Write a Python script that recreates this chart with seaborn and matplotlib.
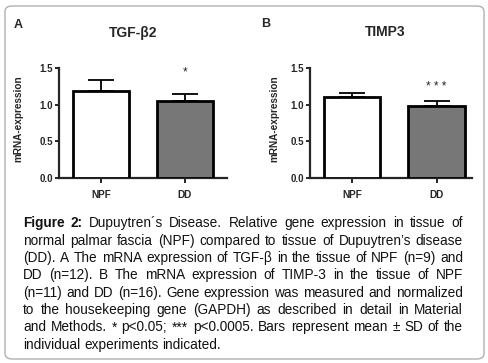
import matplotlib
matplotlib.use("Agg")
import matplotlib.pyplot as plt
import pandas as pd
import seaborn as sns
from matplotlib.patches import FancyBboxPatch

# data
groups = ["NPF", "DD"]
tgf_mean = [1.18, 1.055]
tgf_sd = [0.155, 0.09]
timp_mean = [1.10, 0.977]
timp_sd = [0.055, 0.075]
sig_tgf = "*"
sig_timp = "* * *"
yticks = [0.0, 0.5, 1.0, 1.5]

caption = [
    "Figure 2: Dupuytren´s Disease. Relative gene expression in tissue of",
    "normal palmar fascia (NPF) compared to tissue of Dupuytren’s disease",
    "(DD). A The mRNA expression of TGF-β in the tissue of NPF (n=9) and",
    "DD (n=12). B The mRNA expression of TIMP-3 in the tissue of NPF",
    "(n=11) and DD (n=16). Gene expression was measured and normalized",
    "to the housekeeping gene (GAPDH) as described in detail in Material",
    "and Methods. * p<0.05; *** p<0.0005. Bars represent mean ± SD of the",
    "individual experiments indicated.",
]

sns.set_style("ticks")
plt.rcParams["font.family"] = ["Liberation Sans", "DejaVu Sans"]

W, H = 489, 363
fig = plt.figure(figsize=(W / 100, H / 100), dpi=100)

# rounded frame around everything
frame = FancyBboxPatch((5 / W, 4 / H), 479 / W, 353 / H,
                       boxstyle="round,pad=0,rounding_size=0.015",
                       transform=fig.transFigure, fill=False,
                       edgecolor="#b0b0b0", linewidth=1.0)
fig.patches.append(frame)


def panel(rect, means, sds, sig, sig_y, xmax, label_x):
    ax = fig.add_axes(rect)
    df = pd.DataFrame({"group": groups, "value": means})
    sns.barplot(data=df, x="group", y="value", hue="group",
                palette=["white", "#777777"], legend=False,
                edgecolor="black", linewidth=2.0, width=0.67,
                errorbar=None, ax=ax, zorder=3)
    ax.errorbar(range(len(groups)), means, yerr=[[0] * len(sds), sds],
                fmt="none", ecolor="black", elinewidth=1.3,
                capsize=9.5, capthick=1.3, zorder=2)
    ax.text(1, sig_y, sig, ha="center", va="center", fontsize=8.5)
    ax.set_xlim(-0.5, xmax)
    ax.set_ylim(0, 1.5)
    ax.set_yticks(yticks)
    ax.set_yticklabels([f"{v:.1f}" for v in yticks])
    sns.despine(ax=ax)
    for s in ["left", "bottom"]:
        ax.spines[s].set_linewidth(1.6)
    ax.tick_params(axis="y", length=3, width=1.4, pad=1.5, labelsize=7)
    ax.tick_params(axis="x", length=3.5, width=1.4, pad=5, labelsize=7.2)
    for t in ax.get_xticklabels() + ax.get_yticklabels():
        t.set_fontweight("bold")
    ax.set_xlabel("")
    ax.set_ylabel("mRNA-expression", fontsize=7.2, fontweight="bold")
    ax.yaxis.set_label_coords(label_x, 0.54)
    return ax


panel([59 / W, 1 - 178.3 / H, 168 / W, 110.6 / H],
      tgf_mean, tgf_sd, sig_tgf, 1.43, 1.5, -0.21)
panel([310 / W, 1 - 178.3 / H, 162 / W, 110.6 / H],
      timp_mean, timp_sd, sig_timp, 1.24, 1.42, -0.19)

fig.text(14 / W, 1 - 25 / H, "A", fontsize=9, fontweight="bold", va="center")
fig.text(261 / W, 1 - 24 / H, "B", fontsize=9, fontweight="bold", va="center")
fig.text(133 / W, 1 - 32.5 / H, "TGF-β2", fontsize=10, fontweight="bold",
         ha="center", va="center")
fig.text(385 / W, 1 - 32 / H, "TIMP3", fontsize=10, fontweight="bold",
         ha="center", va="center")

# justified caption
fs = 9.8
x0, x1 = 23.0, 463.0
renderer = fig.canvas.get_renderer()
space = fs * 100 / 72 * 0.278
for i, line in enumerate(caption):
    y = 227.5 + 17.3 * i
    words = line.split(" ")
    texts = []
    for j, w in enumerate(words):
        bold = i == 0 and j < 2
        texts.append(fig.text(0, 1 - y / H, w, fontsize=fs, color="#111111",
                              fontweight="bold" if bold else "normal",
                              va="baseline", ha="left"))
    widths = [t.get_window_extent(renderer).width for t in texts]
    if i < len(caption) - 1:
        gap = (x1 - x0 - sum(widths)) / (len(words) - 1)
    else:
        gap = space
    x = x0
    for t, w in zip(texts, widths):
        t.set_x(x / W)
        x += w + gap

fig.savefig("out.png", dpi=100)
